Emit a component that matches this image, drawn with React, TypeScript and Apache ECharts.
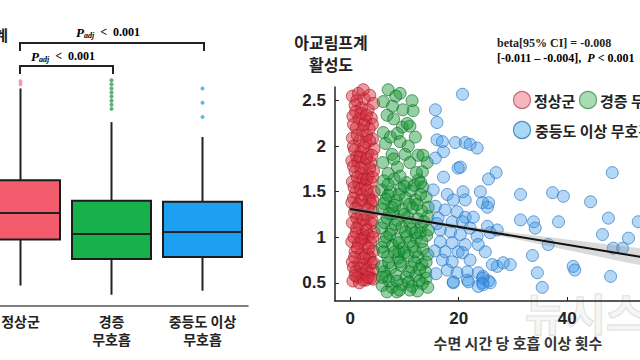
import React, { useEffect, useRef } from 'react';
import * as echarts from 'echarts';

// ---------- data ----------
const groupNames = ['정상군', '경증\n무호흡', '중등도 이상\n무호흡'];
// [min, Q1, median, Q3, max]
const boxStats = [
  [0.4, 0.85, 1.11, 1.43, 2.33],
  [0.31, 0.66, 0.905, 1.23, 2.0],
  [0.35, 0.68, 0.925, 1.22, 1.855],
];
const redOutliers = [[0, 2.4], [0, 2.37]];
const greenOutliers = [[1, 2.41], [1, 2.37], [1, 2.33], [1, 2.29], [1, 2.25], [1, 2.21], [1, 2.17], [1, 2.13]];
const blueOutliers = [[2, 2.33], [2, 2.19], [2, 2.05]];

const normalPts = [
  [0.4, 2.55], [1.5, 2.58], [2.6, 2.52], [3.6, 2.56], [2.4, 2.62], [1.2, 2.5], [0.9, 2.45], [2.1, 2.42], [3.3, 2.4], [4.3, 2.47],
  [0.5, 2.33], [1.6, 2.3], [2.8, 2.28], [3.9, 2.31], [2.0, 2.36], [4.1, 2.24], [1.1, 2.2], [2.3, 2.17], [3.5, 2.19], [0.4, 2.09],
  [1.7, 2.06], [2.9, 2.04], [4.1, 2.08], [3.0, 2.12], [0.8, 1.96], [2.0, 1.94], [3.2, 1.92], [4.4, 1.97], [1.2, 1.88], [0.3, 1.84],
  [1.4, 1.83], [2.6, 1.8], [3.8, 1.82], [0.9, 1.72], [2.1, 1.7], [3.3, 1.68], [4.3, 1.73], [2.4, 1.64], [0.4, 1.61], [1.6, 1.59],
  [2.7, 1.57], [3.9, 1.6], [1.0, 1.49], [2.2, 1.47], [3.4, 1.46], [4.4, 1.5], [0.6, 1.43], [3.6, 1.42], [0.3, 1.38], [1.5, 1.36],
  [2.6, 1.35], [3.8, 1.37], [0.8, 1.27], [2.0, 1.25], [3.1, 1.24], [4.2, 1.28], [1.2, 1.21], [4.0, 1.19], [0.4, 1.16], [1.6, 1.14],
  [2.8, 1.13], [3.9, 1.15], [1.1, 1.05], [2.3, 1.03], [3.4, 1.02], [4.4, 1.06], [2.5, 0.99], [0.3, 0.95], [1.5, 0.93], [2.7, 0.92],
  [3.8, 0.94], [0.9, 0.84], [2.1, 0.82], [3.2, 0.81], [4.3, 0.85], [3.6, 0.78], [0.4, 0.73], [1.6, 0.71], [2.8, 0.7], [3.9, 0.72],
  [0.6, 0.67], [1.0, 0.62], [2.2, 0.6], [3.4, 0.61], [4.2, 0.64], [1.3, 0.56], [0.5, 0.52], [1.7, 0.5], [2.9, 0.53], [3.8, 0.55],
  [1.0, 2.38], [3.0, 2.34], [0.6, 2.24], [2.5, 2.24], [1.3, 2.12], [3.6, 2.06], [0.6, 2.0], [2.5, 1.99], [4.0, 1.9], [1.8, 1.88],
  [3.0, 1.86], [0.6, 1.78], [2.0, 1.76], [3.6, 1.76], [1.3, 1.66], [3.0, 1.63], [4.1, 1.66], [0.7, 1.55], [1.9, 1.53], [3.1, 1.52],
  [2.0, 1.41], [4.2, 1.4], [1.0, 1.32], [3.3, 1.31], [2.4, 1.19], [1.2, 1.1], [3.0, 1.08], [4.2, 1.0], [0.7, 1.0], [2.0, 0.97],
  [1.3, 0.88], [3.4, 0.88], [2.5, 0.77], [0.8, 0.78], [4.3, 0.72], [1.9, 0.66], [3.0, 0.64], [2.4, 0.53], [4.3, 0.54], [0.9, 0.58],
  [3.3, 0.56],
];

const mildPts = [
  [7.0, 2.62], [9.2, 2.58], [11.4, 2.5], [11.6, 2.39], [6.1, 2.49], [7.8, 2.44], [6.8, 2.34], [9.6, 2.21], [8.7, 2.14], [11.0, 2.22],
  [6.1, 2.15], [6.5, 2.03], [9.2, 2.05], [7.7, 1.91], [10.1, 1.91], [12.5, 1.9], [14.2, 1.82], [6.0, 1.82], [8.7, 1.77], [11.0, 1.82],
  [13.3, 1.72], [10.5, 2.25], [12.0, 2.1], [8.0, 2.3],
  [6.2, 1.62], [8.1, 1.64], [10.4, 1.6], [12.6, 1.63], [5.8, 1.52], [7.4, 1.5], [9.3, 1.53], [11.2, 1.51], [13.4, 1.55],
  [6.6, 1.42], [8.5, 1.4], [10.2, 1.43], [12.0, 1.41], [14.0, 1.44], [5.9, 1.31], [7.7, 1.33], [9.6, 1.3], [11.5, 1.32], [13.2, 1.29],
  [6.8, 1.21], [8.7, 1.19], [10.6, 1.22], [12.4, 1.2], [14.3, 1.23], [5.8, 1.1], [7.6, 1.08], [9.5, 1.11], [11.3, 1.09], [13.1, 1.12],
  [6.7, 1.0], [8.6, 0.98], [10.4, 1.01], [12.2, 0.99], [14.1, 1.02], [5.9, 0.89], [7.8, 0.91], [9.7, 0.88], [11.6, 0.9], [13.4, 0.87],
  [6.9, 0.79], [8.8, 0.77], [10.6, 0.8], [12.5, 0.78], [14.3, 0.81], [5.8, 0.68], [7.5, 0.66], [9.4, 0.69], [11.3, 0.67], [13.2, 0.7],
  [6.6, 0.57], [8.4, 0.59], [10.3, 0.56], [12.1, 0.58], [14.0, 0.55], [5.9, 0.47], [7.7, 0.45], [9.6, 0.48], [11.4, 0.46], [13.3, 0.49],
  [8.6, 0.4], [12.4, 0.41], [6.8, 0.4], [7.0, 1.46], [10.9, 1.36], [8.0, 1.26], [12.9, 1.05], [9.0, 0.84], [11.8, 0.73], [6.3, 0.95],
  [13.9, 0.62], [10.0, 1.56], [7.2, 0.52],
  [7.0, 1.58], [9.0, 1.47], [11.8, 1.57], [13.0, 1.47], [6.2, 1.37], [8.2, 1.35], [12.3, 1.36], [14.4, 1.33], [7.2, 1.26], [9.9, 1.25],
  [11.0, 1.16], [13.6, 1.17], [6.3, 1.16], [8.3, 1.14], [10.2, 1.06], [12.0, 1.05], [7.3, 1.03], [14.4, 1.08], [9.0, 0.94], [11.0, 0.95],
  [13.2, 0.95], [6.1, 0.84], [8.2, 0.84], [10.0, 0.83], [12.0, 0.84], [14.0, 0.73], [7.1, 0.72], [9.2, 0.73], [10.8, 0.62], [12.8, 0.65],
  [6.2, 0.62], [8.6, 0.52], [10.8, 0.51], [12.7, 0.52], [14.3, 0.45], [5.9, 0.56], [9.1, 0.42], [11.0, 0.42], [13.0, 1.6], [9.2, 1.67],
  [7.0, 1.7], [12.2, 1.71], [8.0, 1.86], [10.7, 2.0], [13.4, 1.9], [7.4, 2.1], [9.7, 2.4], [8.4, 2.55],
];

const moderatePts = [
  [20.7, 2.57], [15.7, 2.4], [16.0, 2.26], [16.0, 2.07], [17.0, 2.05], [19.4, 2.04], [21.2, 2.04], [22.1, 2.02], [23.4, 1.98],
  [17.2, 1.94], [15.7, 1.87], [19.9, 1.76], [26.9, 1.71], [25.5, 1.64], [17.2, 1.66], [20.3, 1.77],
  [31.4, 1.47], [37.3, 1.49], [39.3, 1.45], [44.3, 1.39], [48.3, 1.71], [31.4, 1.19], [33.8, 1.17], [34.1, 1.1], [38.4, 1.17],
  [47.6, 1.21], [53.1, 1.17], [46.5, 1.03], [51.3, 0.99], [48.5, 0.88], [50.2, 0.88], [36.5, 0.92], [33.6, 0.8], [41.1, 0.68],
  [41.4, 0.64], [34.5, 0.61], [35.4, 0.45], [48.0, 0.57],
  [27.1, 0.68], [29.5, 0.7], [24.5, 0.57], [24.4, 0.5], [23.6, 0.46], [25.5, 0.52], [21.6, 0.53], [19.0, 0.5],
  [15.3, 1.52], [17.9, 1.47], [19.0, 1.41], [20.8, 1.5], [21.2, 1.41], [24.0, 1.5], [24.4, 1.38], [25.3, 1.33], [25.5, 1.38],
  [15.7, 1.34], [17.5, 1.3], [19.7, 1.28], [21.2, 1.22], [22.7, 1.22], [16.2, 1.21], [18.8, 1.17], [20.7, 1.17], [16.6, 1.08],
  [18.5, 1.06], [22.1, 1.1], [25.3, 1.12], [27.1, 1.08], [20.3, 1.03], [23.4, 1.01], [25.8, 1.05], [16.6, 0.95], [18.8, 0.94],
  [21.2, 0.92], [23.6, 0.92], [17.5, 0.84], [19.9, 0.84], [24.9, 0.84], [20.7, 0.83], [17.0, 0.75], [18.8, 0.73], [22.1, 0.75],
  [26.2, 0.7], [28.2, 0.72], [17.9, 0.64], [19.7, 0.61], [21.6, 0.62], [23.6, 0.61], [19.0, 0.51], [21.8, 0.51], [24.4, 0.55],
  [24.5, 0.48], [25.8, 0.5], [15.8, 0.6], [15.6, 0.85], [16.0, 1.15],
];

const fitLine = [[0, 1.31], [56, 0.76]];
const bandX = [0, 10, 20, 30, 40, 50, 56];
const bandLow = [1.27, 1.19, 1.095, 0.985, 0.86, 0.735, 0.665];
const bandHigh = [1.35, 1.235, 1.135, 1.05, 0.975, 0.905, 0.86];

const xTicks = [0, 20, 40];
const yTicks = [0.5, 1, 1.5, 2, 2.5];

// ---------- styles ----------
const OFF = 40;
const KR = "'Noto Sans CJK KR', sans-serif";
const SERIF = "'Liberation Serif', 'Times New Roman', serif";
const boxColors = ['#f25c6c', '#17b04c', '#1ea0f2'];
const BOX_HALF = 39.5;

export default function App() {
  const ref = useRef<HTMLDivElement>(null);
  useEffect(() => {
    if (!ref.current) return;
    const chart = echarts.init(ref.current, null, { renderer: 'svg' });
    const scatterStyle = (fill: string, border: string) => ({
      color: fill,
      borderColor: border,
      borderWidth: 1,
    });
    const pTextRich = {
      p: { fontFamily: SERIF, fontStyle: 'italic', fontWeight: 'bold', fontSize: 13, color: '#222' },
      s: { fontFamily: SERIF, fontStyle: 'italic', fontWeight: 'bold', fontSize: 8, color: '#222', padding: [7, 0, 0, 0] },
      n: { fontFamily: SERIF, fontWeight: 'bold', fontSize: 12, color: '#222' },
    };
    const option: any = {
      animation: false,
      backgroundColor: '#ffffff',
      grid: [
        { left: -25 + OFF, top: 20, width: 273, height: 286 },
        { left: 335 + OFF, top: 87, width: 319, height: 214 },
      ],
      xAxis: [
        {
          type: 'category',
          gridIndex: 0,
          data: groupNames,
          axisLine: { lineStyle: { color: '#555', width: 1.5 } },
          axisTick: { inside: true, length: 3, alignWithLabel: true, lineStyle: { color: '#555' } },
          axisLabel: {
            interval: 0,
            margin: 6,
            fontFamily: KR,
            fontWeight: 'bold',
            fontSize: 14,
            lineHeight: 18,
            color: '#222',
          },
          splitLine: { show: false },
        },
        {
          type: 'value',
          gridIndex: 1,
          min: -2.8,
          max: 56,
          axisLine: { onZero: false, lineStyle: { color: '#222', width: 1.5 } },
          axisTick: { inside: true, length: 4, customValues: xTicks, lineStyle: { color: '#222' } },
          axisLabel: {
            customValues: xTicks,
            margin: 9,
            fontFamily: "'Liberation Sans', Arial, sans-serif",
            fontWeight: 'bold',
            fontSize: 17,
            color: '#222',
          },
          splitLine: { show: false },
        },
      ],
      yAxis: [
        { type: 'value', gridIndex: 0, min: 0.2, max: 3.0, show: false },
        {
          type: 'value',
          gridIndex: 1,
          min: 0.3,
          max: 2.65,
          axisLine: { show: true, onZero: false, lineStyle: { color: '#222', width: 1.5 } },
          axisTick: { show: true, inside: true, length: 4, customValues: yTicks, lineStyle: { color: '#222' } },
          axisLabel: {
            customValues: yTicks,
            margin: 9,
            fontFamily: "'Liberation Sans', Arial, sans-serif",
            fontWeight: 'bold',
            fontSize: 17,
            color: '#222',
          },
          splitLine: { show: false },
        },
      ],
      series: [
        {
          type: 'custom',
          name: 'box',
          xAxisIndex: 0,
          yAxisIndex: 0,
          encode: { x: 0, y: [1, 2, 3, 4, 5] },
          data: boxStats.map((v, i) => [i, ...v]),
          renderItem: (params: any, api: any) => {
            const idx = api.value(0);
            const pMin = api.coord([idx, api.value(1)]);
            const pQ1 = api.coord([idx, api.value(2)]);
            const pMed = api.coord([idx, api.value(3)]);
            const pQ3 = api.coord([idx, api.value(4)]);
            const pMax = api.coord([idx, api.value(5)]);
            const cx = pMed[0];
            const lineStyle = { stroke: '#222', lineWidth: 2 };
            return {
              type: 'group',
              children: [
                { type: 'line', shape: { x1: cx, y1: pMax[1], x2: cx, y2: pQ3[1] }, style: lineStyle },
                { type: 'line', shape: { x1: cx, y1: pQ1[1], x2: cx, y2: pMin[1] }, style: lineStyle },
                {
                  type: 'rect',
                  shape: { x: cx - BOX_HALF, y: pQ3[1], width: BOX_HALF * 2, height: pQ1[1] - pQ3[1] },
                  style: { fill: boxColors[params.dataIndex], stroke: '#1c1c1c', lineWidth: 2 },
                },
                { type: 'line', shape: { x1: cx - BOX_HALF, y1: pMed[1], x2: cx + BOX_HALF, y2: pMed[1] }, style: lineStyle },
              ],
            };
          },
        },
        {
          type: 'scatter', xAxisIndex: 0, yAxisIndex: 0, symbolSize: 4,
          itemStyle: { color: '#e58a98' }, data: redOutliers,
        },
        {
          type: 'scatter', xAxisIndex: 0, yAxisIndex: 0, symbolSize: 4,
          itemStyle: { color: '#2e9e55' }, data: greenOutliers,
        },
        {
          type: 'scatter', xAxisIndex: 0, yAxisIndex: 0, symbolSize: 4,
          itemStyle: { color: '#3aa7d8' }, data: blueOutliers,
        },
        {
          name: '정상군', type: 'scatter', xAxisIndex: 1, yAxisIndex: 1, symbolSize: 12,
          itemStyle: scatterStyle('rgba(214,40,56,0.58)', 'rgba(165,28,42,0.82)'), data: normalPts,
        },
        {
          name: '경증', type: 'scatter', xAxisIndex: 1, yAxisIndex: 1, symbolSize: 12,
          itemStyle: scatterStyle('rgba(20,150,52,0.56)', 'rgba(14,110,38,0.82)'), data: mildPts,
        },
        {
          name: '중등도 이상 무호흡', type: 'scatter', xAxisIndex: 1, yAxisIndex: 1, symbolSize: 12,
          itemStyle: scatterStyle('rgba(55,150,228,0.47)', 'rgba(35,112,192,0.82)'), data: moderatePts,
        },
        {
          type: 'custom',
          xAxisIndex: 1,
          yAxisIndex: 1,
          data: [0],
          z: 3,
          renderItem: (_params: any, api: any) => {
            const upper = bandX.map((x, i) => api.coord([x, bandHigh[i]]));
            const lower = bandX.map((x, i) => api.coord([x, bandLow[i]])).reverse();
            return {
              type: 'polygon',
              shape: { points: upper.concat(lower) },
              style: { fill: 'rgba(150,150,150,0.35)', stroke: 'none' },
            };
          },
        },
        {
          type: 'line', xAxisIndex: 1, yAxisIndex: 1, data: fitLine, symbol: 'none', z: 4,
          lineStyle: { color: '#111', width: 2 },
        },
      ],
      graphic: [
        {
          type: 'text', x: 525 + OFF, y: 312, z: 0,
          style: {
            text: '뉴시스', fontFamily: KR, fontWeight: 'bold', fontSize: 44,
            fill: 'rgba(240,240,240,0.6)', stroke: '#dcdcdc', lineWidth: 1.2, verticalAlign: 'middle',
          },
        },
        {
          type: 'text', x: 8 + OFF, y: 34,
          style: { text: '아교림프계', fontFamily: KR, fontWeight: 'bold', fontSize: 15, fill: '#222', align: 'right', verticalAlign: 'middle' },
        },
        {
          type: 'polyline',
          shape: { points: [[20 + OFF, 51], [20 + OFF, 43], [204 + OFF, 43], [204 + OFF, 51]] },
          style: { stroke: '#222', lineWidth: 2, fill: 'none' },
        },
        {
          type: 'polyline',
          shape: { points: [[20 + OFF, 74], [20 + OFF, 66], [113 + OFF, 66], [113 + OFF, 74]] },
          style: { stroke: '#222', lineWidth: 2, fill: 'none' },
        },
        {
          type: 'text', x: 108 + OFF, y: 32,
          style: { text: '{p|P}{s|adj}{n|  <  0.001}', rich: pTextRich, align: 'center', verticalAlign: 'middle' },
        },
        {
          type: 'text', x: 63 + OFF, y: 56,
          style: { text: '{p|P}{s|adj}{n|  <  0.001}', rich: pTextRich, align: 'center', verticalAlign: 'middle' },
        },
        {
          type: 'text', x: 331 + OFF, y: 42,
          style: {
            text: '아교림프계', fontFamily: KR, fontWeight: 'bold', fontSize: 16,
            fill: '#222', align: 'center', verticalAlign: 'middle',
          },
        },
        {
          type: 'text', x: 331 + OFF, y: 64,
          style: {
            text: '활성도', fontFamily: KR, fontWeight: 'bold', fontSize: 16,
            fill: '#222', align: 'center', verticalAlign: 'middle',
          },
        },
        {
          type: 'text', x: 497 + OFF, y: 43,
          style: { text: 'beta[95% CI] = -0.008', fontFamily: SERIF, fontWeight: 'bold', fontSize: 12, fill: '#222', verticalAlign: 'middle' },
        },
        {
          type: 'text', x: 497 + OFF, y: 58,
          style: {
            text: '{n|[-0.011 – -0.004],  }{i|P}{n| < 0.001}',
            verticalAlign: 'middle',
            rich: {
              n: { fontFamily: SERIF, fontWeight: 'bold', fontSize: 12, color: '#222' },
              i: { fontFamily: SERIF, fontWeight: 'bold', fontStyle: 'italic', fontSize: 12, color: '#222' },
            },
          },
        },
        {
          type: 'text', x: 518 + OFF, y: 342,
          style: { text: '수면 시간 당 호흡 이상 횟수', fontFamily: KR, fontWeight: 'bold', fontSize: 15, fill: '#333', align: 'center', verticalAlign: 'middle' },
        },
        { type: 'circle', shape: { cx: 522 + OFF, cy: 100, r: 8.5 }, style: { fill: '#f6b6bd', stroke: '#c86a78', lineWidth: 1.2 } },
        { type: 'circle', shape: { cx: 588 + OFF, cy: 100, r: 8.5 }, style: { fill: '#a9dcb3', stroke: '#5aa56c', lineWidth: 1.2 } },
        { type: 'circle', shape: { cx: 522 + OFF, cy: 130, r: 8.5 }, style: { fill: '#a9d7f6', stroke: '#4a8fc2', lineWidth: 1.2 } },
        {
          type: 'text', x: 534 + OFF, y: 100,
          style: { text: '정상군', fontFamily: KR, fontWeight: 'bold', fontSize: 15, fill: '#222', verticalAlign: 'middle' },
        },
        {
          type: 'text', x: 600 + OFF, y: 100,
          style: { text: '경증 무호흡', fontFamily: KR, fontWeight: 'bold', fontSize: 15, fill: '#222', verticalAlign: 'middle' },
        },
        {
          type: 'text', x: 535 + OFF, y: 130,
          style: { text: '중등도 이상 무호흡', fontFamily: KR, fontWeight: 'bold', fontSize: 15, fill: '#222', verticalAlign: 'middle' },
        },
      ],
    };
    chart.setOption(option);
    return () => chart.dispose();
  }, []);

  return (
    <div style={{ position: 'fixed', left: 0, top: 0, width: 640, height: 360, overflow: 'hidden', background: '#fff' }}>
      <div ref={ref} style={{ position: 'absolute', left: -OFF, top: 0, width: 720, height: 360 }} />
    </div>
  );
}
